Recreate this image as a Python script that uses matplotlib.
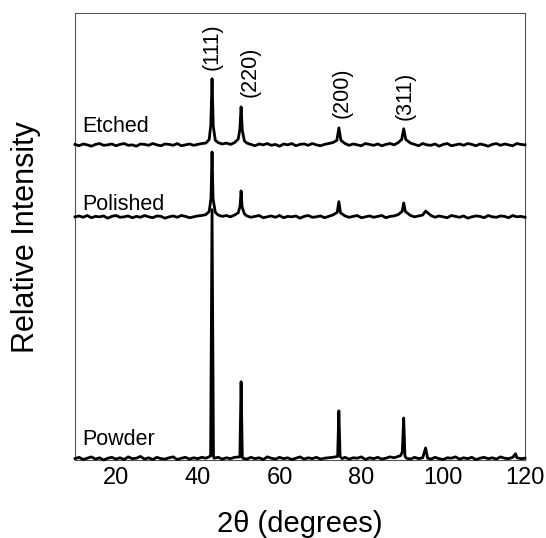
import matplotlib
matplotlib.use("Agg")
import matplotlib.pyplot as plt

plt.rcParams["font.family"] = ["Liberation Sans", "DejaVu Sans"]

ETCHED_X = [10, 11, 12, 13, 14, 15, 16, 17, 18, 19, 20, 21, 22, 23, 24, 25, 26,
            27, 28, 29, 30, 31, 32, 33, 34, 35, 36, 37, 38, 39, 40, 41, 42,
            42.8, 43.2, 43.5, 43.8, 44.3,
            45, 46, 47, 48, 49,
            49.9, 50.3, 50.6, 50.9, 51.4,
            52, 53, 54, 55, 56, 57, 58, 59, 60, 61, 62, 63, 64, 65, 66, 67, 68,
            69, 70, 71, 72, 73,
            74.0, 74.5, 75.0,
            76, 77, 78, 79, 80, 81, 82, 83, 84, 85, 86, 87, 88, 89,
            89.85, 90.35, 90.85,
            92, 93, 94, 95, 96, 97, 98, 99, 100, 101, 102, 103, 104, 105, 106,
            107, 108, 109, 110, 111, 112, 113, 114, 115, 116, 117, 118, 119, 120]
ETCHED_Y = [0.1, -0.2, 0.2, 0.0, -0.3, 0.1, 0.3, -0.1, 0.0, 0.2, -0.2, 0.1,
            0.3, -0.1, 0.0, -0.3, 0.2, 0.1, -0.1, 0.3, 0.0, -0.2, 0.2, 0.1, -0.1,
            0.3, -0.2, 0.0, 0.2, -0.1, 0.1, 0.3, 0.4,
            1.2, 4.5, 14.8, 4.2, 1.0,
            0.5, 0.2, 0.4, 0.1, 0.5,
            1.3, 3.5, 8.5, 3.2, 0.9,
            0.4, 0.1, -0.2, 0.2, 0.0, 0.3, -0.1, 0.1, -0.3, 0.2, 0.0, 0.3, -0.2,
            0.1, 0.2, -0.1, 0.3, 0.0, -0.2, 0.1, 0.3, 0.5,
            1.0, 3.8, 1.0,
            0.3, -0.1, 0.2, 0.0, -0.2, 0.3, 0.1, -0.1, 0.2, -0.2, 0.1, 0.3, 0.0,
            0.5,
            1.2, 3.6, 1.2,
            0.4, 0.1, -0.2, 0.3, 0.0, -0.1, 0.2, -0.3, 0.1, 0.3, -0.2, 0.0, 0.2,
            -0.1, 0.3, 0.1, -0.2, 0.2, 0.0, -0.3, 0.1, 0.3, -0.1, 0.2, 0.0, -0.2,
            0.3, 0.1, 0.0]

POLISHED_X = [10, 11, 12, 13, 14, 15, 16, 17, 18, 19, 20, 21, 22, 23, 24, 25,
              26, 27, 28, 29, 30, 31, 32, 33, 34, 35, 36, 37, 38, 39, 40, 41, 42,
              42.8, 43.25, 43.5, 43.75, 44.3,
              45, 46, 47, 48, 49,
              49.9, 50.35, 50.6, 50.85, 51.4,
              52, 53, 54, 55, 56, 57, 58, 59, 60, 61, 62, 63, 64, 65, 66, 67, 68,
              69, 70, 71, 72, 73,
              74.1, 74.5, 74.9,
              76, 77, 78, 79, 80, 81, 82, 83, 84, 85, 86, 87, 88, 89,
              89.95, 90.35, 90.75,
              92, 93, 94, 95,
              95.7,
              97, 98, 99, 100, 101, 102, 103, 104, 105, 106, 107, 108, 109, 110,
              111, 112, 113, 114, 115, 116, 117, 118, 119, 120]
POLISHED_Y = [0.0, 0.2, -0.1, 0.3, -0.2, 0.1, 0.0, 0.2, -0.3, 0.1, 0.3, -0.1,
              0.0, 0.2, -0.2, 0.1, -0.1, 0.3, 0.0, -0.2, 0.2, 0.1, -0.3, 0.0, 0.2,
              -0.1, 0.3, 0.1, -0.2, 0.0, 0.2, 0.3, 0.5,
              1.2, 4.2, 14.5, 4.0, 1.0,
              0.4, 0.1, 0.3, 0.0, 0.4,
              0.9, 2.4, 5.8, 2.2, 0.7,
              0.2, -0.1, 0.1, 0.3, -0.2, 0.0, 0.2, -0.1, 0.3, -0.2, 0.1, 0.0, 0.2,
              -0.3, 0.1, 0.3, -0.1, 0.0, 0.2, -0.2, 0.1, 0.4,
              1.0, 3.4, 0.9,
              0.2, -0.1, 0.1, 0.3, -0.2, 0.0, 0.2, -0.1, 0.1, 0.3, -0.2, 0.1, 0.2,
              0.5,
              1.2, 3.1, 1.2,
              0.3, 0.0, 0.2, 0.4,
              1.3,
              0.3, -0.1, 0.2, 0.0, -0.2, 0.3, 0.1, -0.1, 0.2, -0.3, 0.0, 0.2, 0.1,
              -0.2, 0.3, 0.0, -0.1, 0.2, 0.1, -0.2, 0.3, 0.0, 0.1, -0.1]

POWDER_X = [10, 11, 12, 13, 14, 15, 16, 17, 18, 19, 20, 21, 22, 23, 24, 25, 26,
            27, 28, 29, 30, 31, 32, 33, 34, 35, 36, 37, 38, 39, 40, 41, 42,
            43.15, 43.5, 43.85,
            44, 45, 46, 47, 48, 49,
            50.3, 50.6, 50.9,
            51, 52, 53, 54, 55, 56, 57, 58, 59, 60, 61, 62, 63, 64, 65, 66, 67,
            68, 69, 70, 71, 72, 73,
            74.2, 74.5, 74.8,
            75.3, 76, 77, 78, 79, 80, 81, 82, 83, 84, 85, 86, 87, 88, 89,
            89.6, 90.0, 90.35, 90.65,
            91, 92, 93, 94, 95,
            95.7,
            96.2, 97, 98, 99, 100, 101, 102, 103, 104, 105, 106, 107, 108, 109,
            110, 111, 112, 113, 114, 115, 116, 117,
            117.7,
            118, 119, 120]
POWDER_Y = [0.3, 0.6, 0.1, 0.4, 0.7, 0.2, 0.5, 0.0, 0.4, 0.6, 0.2, 0.5, 0.1,
            0.7, 0.3, 0.4, 0.8, 0.2, 0.5, 0.1, 0.6, 0.3, 0.2, 0.5, 0.7, 0.1, 0.4,
            0.6, 0.2, 0.5, 0.3, 0.6, 0.4,
            0.9, 56.0, 0.9,
            0.4, 0.6, 0.2, 0.5, 0.3, 0.6,
            0.7, 17.5, 0.7,
            0.4, 0.2, 0.6, 0.3, 0.5, 0.1, 0.7, 0.4, 0.2, 0.6, 0.3, 0.5, 0.1, 0.4,
            0.7, 0.2, 0.5, 0.3, 0.6, 0.2, 0.4, 0.5, 0.6,
            0.8, 11.0, 0.8,
            0.3, 0.6, 0.2, 0.5, 0.4, 0.7, 0.1, 0.5, 0.3, 0.6, 0.2, 0.4, 0.7, 0.5,
            0.8,
            1.0, 1.8, 9.4, 0.9,
            0.4, 0.2, 0.6, 0.3, 0.5,
            2.7,
            0.4, 0.2, 0.6, 0.3, 0.1, 0.5, 0.4, 0.7, 0.2, 0.5, 0.3, 0.6, 0.1, 0.4,
            0.6, 0.3, 0.5, 0.2, 0.7, 0.4, 0.3, 0.6,
            1.4,
            0.5, 0.3, 0.4]

SAMPLES = ["Etched", "Polished", "Powder"]
OFFSETS = [70.5, 54.4, 0.0]

PEAK_LABELS = ["(111)", "(220)", "(200)", "(311)"]
PEAK_LABEL_X = [43.5, 52.8, 75.3, 90.7]
PEAK_LABEL_Y = [87.2, 81.2, 76.5, 76.1]

XTICKS = [20, 40, 60, 80, 100, 120]

fig = plt.figure(figsize=(5.46, 5.38), dpi=100)
ax = fig.add_axes([75 / 546, 78 / 538, 450 / 546, 447 / 538])

traces = [(ETCHED_X, ETCHED_Y), (POLISHED_X, POLISHED_Y), (POWDER_X, POWDER_Y)]
label_y = [73.4, 55.9, 3.4]
for (xs, ys), off, name, ly in zip(traces, OFFSETS, SAMPLES, label_y):
    ax.plot(xs, [y + off for y in ys], color="black", lw=2.0,
            solid_joinstyle="round", clip_on=False, zorder=3)
    ax.text(11.7, ly, name, fontsize=15.5, va="baseline", ha="left")

for lab, px, py in zip(PEAK_LABELS, PEAK_LABEL_X, PEAK_LABEL_Y):
    ax.text(px, py, lab, rotation=90, fontsize=15.5, ha="center", va="bottom")

ax.set_xlim(10, 120)
ax.set_ylim(0, 100)
ax.set_xticks(XTICKS)
ax.set_yticks([])
ax.tick_params(axis="x", length=0, pad=5, labelsize=17)
for sp in ax.spines.values():
    sp.set_color("#555555")
    sp.set_linewidth(0.8)

fig.text(300 / 546, 1 - 524 / 538, "2θ (degrees)", fontsize=21,
         ha="center", va="center")
fig.text(26 / 546, 1 - 237 / 538, "Relative Intensity", fontsize=22,
         rotation=90, ha="center", va="center")

fig.savefig("out.png", dpi=100)
